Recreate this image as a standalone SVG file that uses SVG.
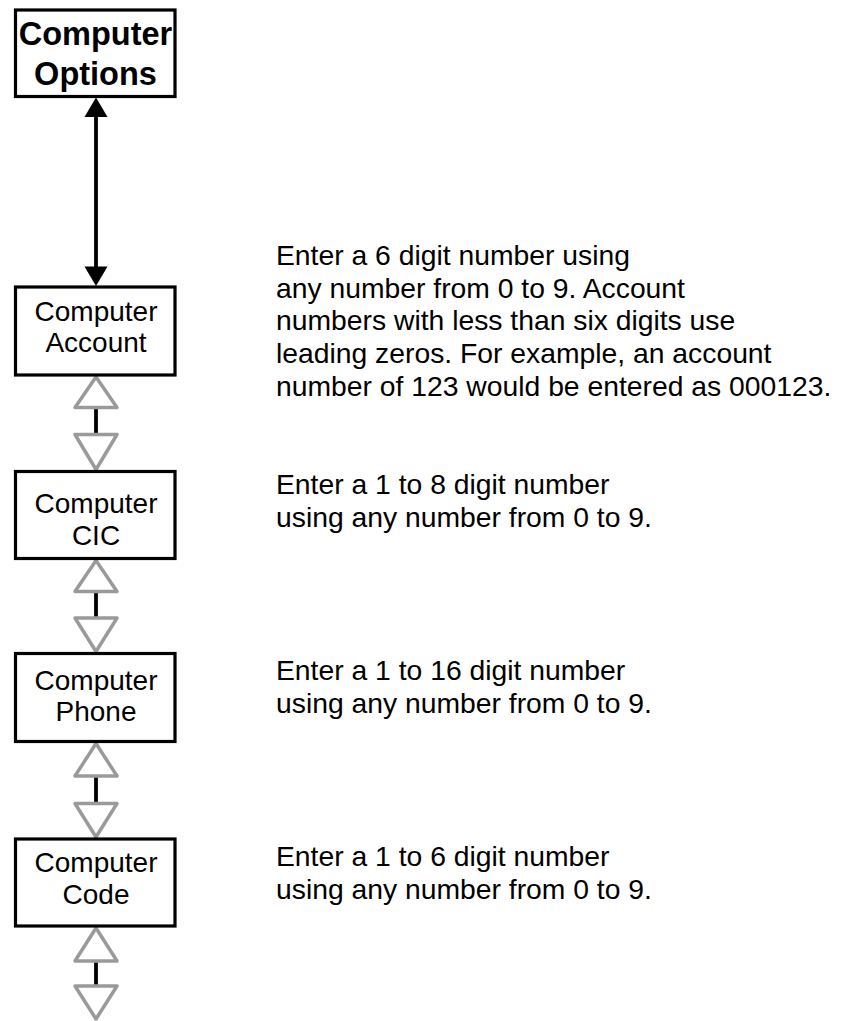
<svg xmlns="http://www.w3.org/2000/svg" width="842" height="1021" viewBox="0 0 842 1021">
<style>
.box{fill:#fff;stroke:#000;stroke-width:3.2}
.lbl{font-family:"Liberation Sans",Arial,sans-serif;font-size:28px;fill:#000;text-anchor:middle}
.top{font-family:"Liberation Sans",Arial,sans-serif;font-size:32.5px;font-weight:bold;fill:#000;text-anchor:middle}
.desc{font-family:"Liberation Sans",Arial,sans-serif;font-size:28.3px;fill:#000}
.tri{fill:#fff;stroke:#9a9a9a;stroke-width:3.5;stroke-linejoin:round}
.shaft{stroke:#000;stroke-width:3.8;fill:none}
</style>
<rect width="842" height="1021" fill="#fff"/>
<g id="connectors">
  <line class="shaft" x1="96" y1="114" x2="96" y2="268"/>
  <polygon points="96,97.5 107.5,117 84.5,117" fill="#000"/>
  <polygon points="96,286 107.5,266.5 84.5,266.5" fill="#000"/>
  <g id="c1">
    <line class="shaft" x1="96" y1="407" x2="96" y2="435"/>
    <polygon class="tri" points="96,377 117,407.5 75,407.5"/>
    <polygon class="tri" points="96,469.5 117,434.5 75,434.5"/>
  </g>
  <g id="c2">
    <line class="shaft" x1="96" y1="591" x2="96" y2="619"/>
    <polygon class="tri" points="96,560.5 117,591.5 75,591.5"/>
    <polygon class="tri" points="96,651.5 117,618 75,618"/>
  </g>
  <g id="c3">
    <line class="shaft" x1="96" y1="776" x2="96" y2="804"/>
    <polygon class="tri" points="96,743.5 117,776 75,776"/>
    <polygon class="tri" points="96,837 117,803.5 75,803.5"/>
  </g>
  <g id="c4">
    <line class="shaft" x1="96" y1="961" x2="96" y2="987"/>
    <polygon class="tri" points="96,928 117,961 75,961"/>
    <polygon class="tri" points="96,1019 117,986 75,986"/>
  </g>
</g>
<g id="options">
  <rect class="box" x="15.5" y="10" width="159.5" height="86.5"/>
  <text class="top" x="95.5" y="45">Computer</text>
  <text class="top" x="95.5" y="85">Options</text>
</g>
<g id="account">
  <rect class="box" x="15.5" y="287" width="159.5" height="88"/>
  <text class="lbl" x="96" y="321">Computer</text>
  <text class="lbl" x="96" y="352">Account</text>
  <text class="desc" x="276" y="265">Enter a 6 digit number using</text>
  <text class="desc" x="276" y="297.7">any number from 0 to 9. Account</text>
  <text class="desc" x="276" y="330.4">numbers with less than six digits use</text>
  <text class="desc" x="276" y="363.1">leading zeros. For example, an account</text>
  <text class="desc" x="276" y="395.8">number of 123 would be entered as 000123.</text>
</g>
<g id="cic">
  <rect class="box" x="15.5" y="471.5" width="159.5" height="87"/>
  <text class="lbl" x="96" y="513">Computer</text>
  <text class="lbl" x="96" y="545">CIC</text>
  <text class="desc" x="276" y="494">Enter a 1 to 8 digit number</text>
  <text class="desc" x="276" y="526.7">using any number from 0 to 9.</text>
</g>
<g id="phone">
  <rect class="box" x="15.5" y="653.5" width="159.5" height="88"/>
  <text class="lbl" x="96" y="690">Computer</text>
  <text class="lbl" x="96" y="721">Phone</text>
  <text class="desc" x="276" y="680">Enter a 1 to 16 digit number</text>
  <text class="desc" x="276" y="712.7">using any number from 0 to 9.</text>
</g>
<g id="code">
  <rect class="box" x="15.5" y="839" width="159.5" height="87"/>
  <text class="lbl" x="96" y="872">Computer</text>
  <text class="lbl" x="96" y="904">Code</text>
  <text class="desc" x="276" y="866">Enter a 1 to 6 digit number</text>
  <text class="desc" x="276" y="898.7">using any number from 0 to 9.</text>
</g>
</svg>
